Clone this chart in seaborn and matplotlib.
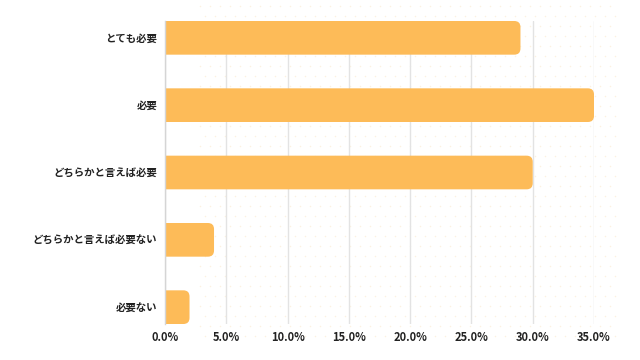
import numpy as np
import seaborn as sns
import matplotlib.pyplot as plt
from matplotlib.patches import FancyBboxPatch

   #data.
categories = ['とても必要', '必要', 'どちらかと言えば必要', 'どちらかと言えば必要ない', '必要ない']
values = [29.0, 35.0, 30.0, 4.0, 2.0]
xticks = [0, 5, 10, 15, 20, 25, 30, 35]

bar_color = '#FDBB58'

sns.set_style('white')
plt.rcParams['font.family'] = ['Noto Sans CJK JP', 'DejaVu Sans']

fig = plt.figure(figsize=(6.4, 3.6), dpi=100)

   #faint dotted background pattern (decoration only).
bg = fig.add_axes([0, 0, 1, 1], zorder=0)
bg.set_xlim(0, 640)
bg.set_ylim(360, 0)
bg.axis('off')
gx, gy = np.meshgrid(np.arange(200, 616, 10), np.arange(6, 341, 10))
gx = gx + (np.arange(gy.shape[0])[:, None] % 2) * 5
bg.scatter(gx.ravel(), gy.ravel(), s=1.2, color='#FDF1DF', linewidths=0)

ax = fig.add_axes([165/640, 36/360, 429/640, 303/360], zorder=1)
ax.patch.set_alpha(0)

sns.barplot(x=values, y=categories, orient='h', color=bar_color, width=0.5,
            saturation=1, ax=ax)

   #rounded right ends (left end pushed past the axis and clipped).
r = 0.5
aspect = (4.5/303) / (35/429)
for p in list(ax.patches):
    x0, y0 = p.get_x(), p.get_y()
    w, h = p.get_width(), p.get_height()
    p.set_visible(False)
    ax.add_patch(FancyBboxPatch((x0 - 2*r, y0), w + 2*r, h,
                                boxstyle=f'round,pad=0,rounding_size={r}',
                                mutation_aspect=aspect, fc=bar_color, ec='none',
                                zorder=3))

ax.set_xlim(0, 35)
ax.set_ylim(4.25, -0.25)
ax.set_xticks(xticks)
ax.set_xticklabels([f'{t:.1f}%' for t in xticks], fontsize=8, fontweight='bold', color='#222222')
ax.tick_params(axis='y', labelsize=7.5, pad=5.5, colors='#222222', length=0)
ax.tick_params(axis='x', pad=5, length=0)
for lbl in ax.get_yticklabels():
    lbl.set_fontweight('bold')
ax.set_xlabel('')
ax.set_ylabel('')

ax.grid(axis='x', color='#E3E3E3', linewidth=1)
ax.set_axisbelow(True)
for s in ['top', 'right', 'bottom']:
    ax.spines[s].set_visible(False)
ax.spines['left'].set_color('#D5D5D5')
ax.spines['left'].set_linewidth(1)
ax.spines['left'].set_zorder(4)

plt.savefig('out.png', dpi=100)
